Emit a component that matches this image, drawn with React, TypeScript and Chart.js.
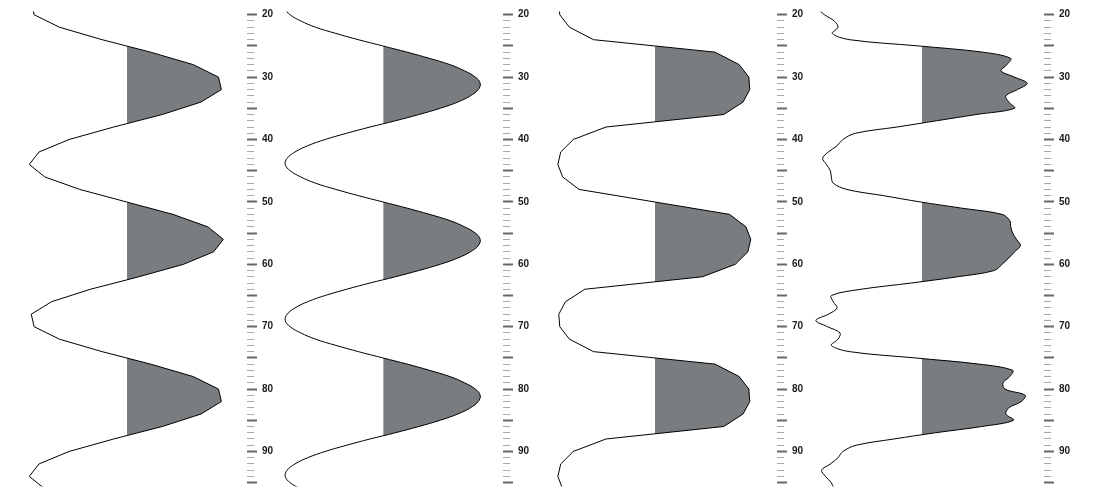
import React, { useEffect, useRef } from 'react';
import { Chart, registerables } from 'chart.js';

Chart.register(...registerables);
Chart.defaults.font.family = "'Liberation Sans', Arial, sans-serif";

// Depth samples (every 2 units and every 1 unit)
const DEPTHS_STEP2 = [18, 20, 22, 24, 26, 28, 30, 32, 34, 36, 38, 40, 42, 44, 46, 48, 50, 52, 54, 56, 58, 60, 62, 64, 66, 68, 70, 72, 74, 76, 78, 80, 82, 84, 86, 88, 90, 92, 94, 96, 98];
const DEPTHS_STEP1 = [18, 19, 20, 21, 22, 23, 24, 25, 26, 27, 28, 29, 30, 31, 32, 33, 34, 35, 36, 37, 38, 39, 40, 41, 42, 43, 44, 45, 46, 47, 48, 49, 50, 51, 52, 53, 54, 55, 56, 57, 58, 59, 60, 61, 62, 63, 64, 65, 66, 67, 68, 69, 70, 71, 72, 73, 74, 75, 76, 77, 78, 79, 80, 81, 82, 83, 84, 85, 86, 87, 88, 89, 90, 91, 92, 93, 94, 95, 96, 97];

// Trace 1: coarse wiggle
const TRACE_1 = [-0.98, -0.95, -0.69, -0.25, 0.25, 0.69, 0.95, 0.98, 0.77, 0.37, -0.13, -0.59, -0.9, -1.0, -0.84, -0.48, 0, 0.48, 0.84, 1.0, 0.9, 0.59, 0.13, -0.37, -0.77, -0.98, -0.95, -0.69, -0.25, 0.25, 0.69, 0.95, 0.98, 0.77, 0.37, -0.13, -0.59, -0.9, -1.0, -0.84, -0.48];

// Trace 2: smooth wiggle
const TRACE_2 = [-0.98, -1.0, -0.95, -0.84, -0.69, -0.48, -0.25, 0, 0.25, 0.48, 0.69, 0.84, 0.95, 1.0, 0.98, 0.9, 0.77, 0.59, 0.37, 0.13, -0.13, -0.37, -0.59, -0.77, -0.9, -0.98, -1.0, -0.95, -0.84, -0.69, -0.48, -0.25, 0, 0.25, 0.48, 0.69, 0.84, 0.95, 1.0, 0.98, 0.9, 0.77, 0.59, 0.37, 0.13, -0.13, -0.37, -0.59, -0.77, -0.9, -0.98, -1.0, -0.95, -0.84, -0.69, -0.48, -0.25, 0, 0.25, 0.48, 0.69, 0.84, 0.95, 1.0, 0.98, 0.9, 0.77, 0.59, 0.37, 0.13, -0.13, -0.37, -0.59, -0.77, -0.9, -0.98, -1.0, -0.95, -0.84, -0.69];

// Trace 3: squared-off wiggle
const TRACE_3 = [-0.99, -0.98, -0.88, -0.63, 0.63, 0.88, 0.98, 0.99, 0.92, 0.72, -0.5, -0.84, -0.97, -1.0, -0.95, -0.78, 0, 0.78, 0.95, 1.0, 0.97, 0.84, 0.5, -0.72, -0.92, -0.99, -0.98, -0.88, -0.63, 0.63, 0.88, 0.98, 0.99, 0.92, 0.72, -0.5, -0.84, -0.97, -1.0, -0.95, -0.78];

// Trace 4: noisy wiggle
const TRACE_4 = [-1.02, -1.06, -1.0, -0.9, -0.86, -0.92, -0.74, -0.03, 0.64, 0.93, 0.89, 0.83, 0.97, 1.1, 1.0, 0.88, 0.91, 0.97, 0.57, 0.16, -0.25, -0.68, -0.81, -0.87, -0.96, -1.02, -0.98, -0.94, -0.93, -0.91, -0.77, -0.39, -0.01, 0.42, 0.84, 0.92, 0.93, 0.95, 0.99, 1.03, 0.97, 0.91, 0.84, 0.76, 0.38, -0.1, -0.62, -0.93, -0.91, -0.87, -0.96, -1.09, -0.97, -0.84, -0.86, -0.93, -0.74, -0.07, 0.6, 0.95, 0.92, 0.85, 0.87, 1.08, 1.04, 0.91, 0.88, 0.96, 0.63, 0.15, -0.28, -0.67, -0.81, -0.86, -0.94, -1.03, -0.99, -0.93, -0.9, -0.85];

// Axis
const DEPTH_MIN = 19.5;
const DEPTH_MAX = 95.6;
const TICK_FIRST = 20;
const TICK_LAST = 95;
const LABEL_EVERY = 10;
const MAJOR_EVERY = 5;

const FILL = '#7a7d80';
const AXIS_W = 40;

type PanelCfg = {
  depths: number[];
  values: number[];
  tension: number;
  left: number;
  plotWidth: number;
  xMin: number;
  xMax: number;
};

const PANELS: PanelCfg[] = [
  { depths: DEPTHS_STEP2, values: TRACE_1, tension: 0, left: 6, plotWidth: 241, xMin: -1.24, xMax: 1.244 },
  { depths: DEPTHS_STEP1, values: TRACE_2, tension: 0.4, left: 263, plotWidth: 240, xMin: -1.228, xMax: 1.234 },
  { depths: DEPTHS_STEP2, values: TRACE_3, tension: 0, left: 534, plotWidth: 243, xMin: -1.247, xMax: 1.272 },
  { depths: DEPTHS_STEP1, values: TRACE_4, tension: 0.35, left: 801, plotWidth: 243, xMin: -1.244, xMax: 1.275 },
];

function Panel({ cfg }: { cfg: PanelCfg }) {
  const ref = useRef<HTMLCanvasElement | null>(null);
  useEffect(() => {
    if (!ref.current) return;
    const pts = cfg.depths.map((d, i) => ({ x: cfg.values[i], y: d }));
    const isMajor = (v: number) => v % MAJOR_EVERY === 0;
    const chart = new Chart(ref.current, {
      type: 'line',
      data: {
        datasets: [
          {
            data: pts,
            borderColor: '#000',
            borderWidth: 1,
            pointRadius: 0,
            tension: cfg.tension,
            fill: { value: 0 },
            backgroundColor: (c: any) => {
              const ch = c.chart;
              const area = ch.chartArea;
              const xs = ch.scales && ch.scales.x;
              if (!area || !xs) return FILL;
              const x0 = xs.getPixelForValue(0);
              const w = area.right - area.left;
              const fa = Math.min(1, Math.max(0, (x0 + 0.6 - area.left) / w));
              const fb = Math.min(1, Math.max(0, (x0 + 0.9 - area.left) / w));
              const g = ch.ctx.createLinearGradient(area.left, 0, area.right, 0);
              g.addColorStop(0, 'rgba(122,125,128,0)');
              g.addColorStop(fa, 'rgba(122,125,128,0)');
              g.addColorStop(fb, FILL);
              g.addColorStop(1, FILL);
              return g;
            },
          } as any,
        ],
      },
      options: {
        indexAxis: 'y',
        animation: false,
        responsive: true,
        maintainAspectRatio: false,
        events: [],
        layout: { padding: { top: 11.6, bottom: 13.6, left: 0, right: 0 } },
        plugins: { legend: { display: false }, tooltip: { enabled: false } },
        scales: {
          x: { type: 'linear', display: false, min: cfg.xMin, max: cfg.xMax },
          y: {
            type: 'linear',
            position: 'right',
            reverse: true,
            min: DEPTH_MIN,
            max: DEPTH_MAX,
            afterBuildTicks: (s: any) => {
              s.ticks = s.ticks.filter(
                (t: any) => Number.isInteger(t.value) && t.value >= TICK_FIRST && t.value <= TICK_LAST
              );
            },
            afterFit: (s: any) => {
              s.width = AXIS_W;
            },
            border: { display: false },
            grid: {
              drawOnChartArea: false,
              drawTicks: true,
              tickLength: 10,
              tickColor: (c: any) => (c.tick && isMajor(c.tick.value) ? '#666' : '#a8a8a8'),
              tickWidth: (c: any) => (c.tick && isMajor(c.tick.value) ? 2 : 1),
              tickBorderDash: (c: any) => (c.tick && isMajor(c.tick.value) ? [] : [7, 30]),
            } as any,
            ticks: {
              stepSize: 1,
              includeBounds: false,
              autoSkip: false,
              padding: 5,
              color: '#1a1a1a',
              font: { size: 10, weight: 'bold' },
              callback: (v: any) => (Number(v) % LABEL_EVERY === 0 ? String(v) : ''),
            },
          },
        },
      } as any,
    });
    return () => chart.destroy();
  }, [cfg]);
  return (
    <div
      style={{
        position: 'absolute',
        left: cfg.left,
        top: 0,
        width: cfg.plotWidth + AXIS_W,
        height: 500,
      }}
    >
      <canvas ref={ref} />
    </div>
  );
}

export default function App() {
  return (
    <div style={{ position: 'absolute', left: 0, top: 0, width: 1100, height: 500, background: '#fff' }}>
      {PANELS.map((p, i) => (
        <Panel key={i} cfg={p} />
      ))}
    </div>
  );
}
